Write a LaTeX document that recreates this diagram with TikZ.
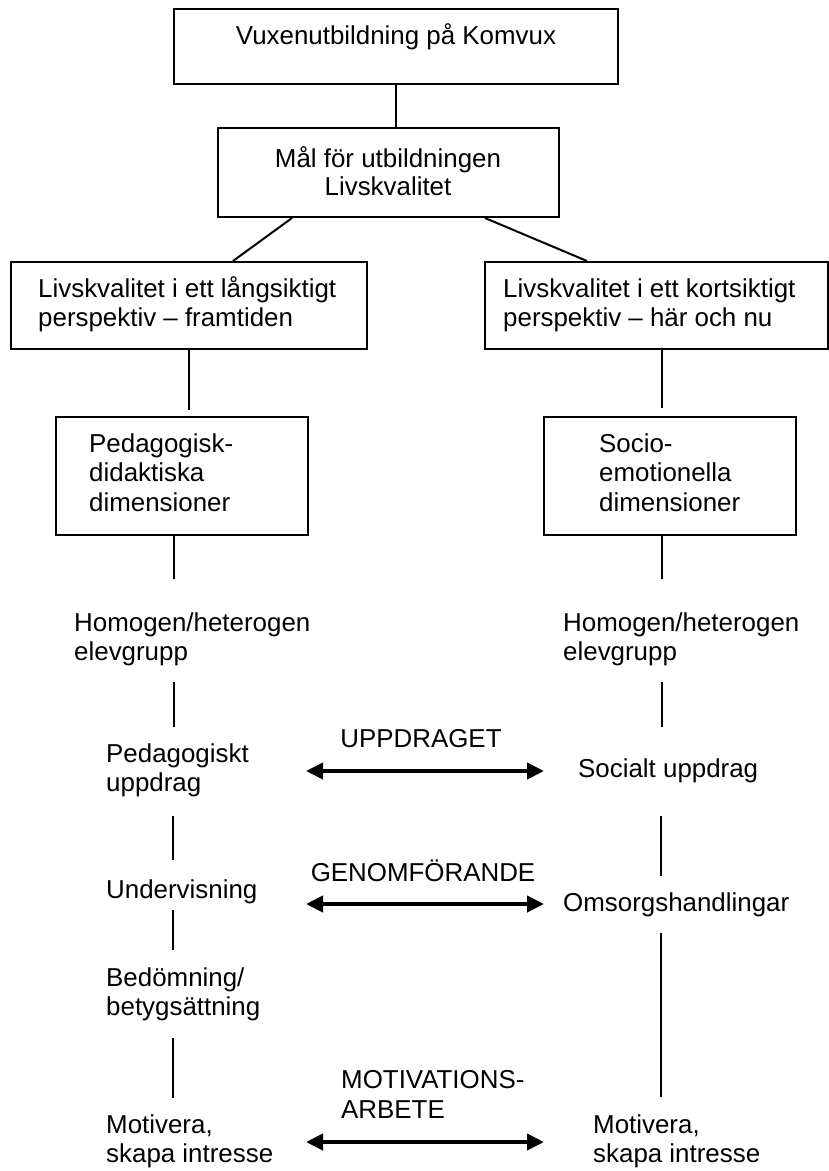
\documentclass[tikz,border=0pt]{standalone}
\usepackage{fontspec}
\setmainfont{Liberation Sans}
\usetikzlibrary{arrows.meta}
\newcommand{\ml}[2][l]{\begin{tabular}[t]{@{}#1@{}}#2\end{tabular}}
\begin{document}
\begin{tikzpicture}[x=1pt,y=-1pt,
  box/.style={draw, line width=2pt, inner sep=0pt, anchor=north west},
  txt/.style={inner sep=0pt, anchor=base west, font=\fontsize{25.9}{29.5}\selectfont},
  ctxt/.style={txt, anchor=base},
  conn/.style={line width=2pt},
  dbl/.style={line width=4pt, {Triangle[length=17pt,width=16pt]}-{Triangle[length=17pt,width=16pt]}}]
\useasboundingbox (0,0) rectangle (829,1171);

% boxes
\node[box, minimum width=444pt, minimum height=75pt] (b1) at (173,8) {};
\node[box, minimum width=341pt, minimum height=89pt] (b2) at (217,127) {};
\node[box, minimum width=356pt, minimum height=87pt] (b3l) at (10,261) {};
\node[box, minimum width=343pt, minimum height=87pt] (b3r) at (484,261) {};
\node[box, minimum width=252pt, minimum height=118pt] (b4l) at (55,416) {};
\node[box, minimum width=252pt, minimum height=118pt] (b4r) at (543,416) {};

% box texts
\node[ctxt] (t1) at (396,44) {Vuxenutbildning på Komvux};
\node[ctxt] (t2) at (388,167) {\ml[c]{Mål för utbildningen\\[-1.5pt]Livskvalitet}};
\node[txt] (t3l) at (38,297) {\ml{Livskvalitet i ett långsiktigt\\perspektiv -- framtiden}};
\node[txt] (t3r) at (503,297) {\ml{Livskvalitet i ett kortsiktigt\\perspektiv -- här och nu}};
\node[txt] (t4l) at (89,452) {\ml{Pedagogisk-\\didaktiska\\dimensioner}};
\node[txt] (t4r) at (599,452) {\ml{Socio-\\emotionella\\dimensioner}};

% free texts
\node[txt] (h1) at (74,631) {\ml{Homogen/heterogen\\elevgrupp}};
\node[txt] (h2) at (563,631) {\ml{Homogen/heterogen\\elevgrupp}};
\node[txt] (p1) at (106,762) {\ml{Pedagogiskt\\uppdrag}};
\node[txt] (s1) at (578,777) {Socialt uppdrag};
\node[ctxt] (u1) at (421,747) {UPPDRAGET};
\node[ctxt] (g1) at (423,881) {GENOMFÖRANDE};
\node[txt] (und) at (106,898) {Undervisning};
\node[txt] (oms) at (563,911) {Omsorgshandlingar};
\node[txt] (bed) at (106,986) {\ml{Bedömning/\\betygsättning}};
\node[txt] (mot) at (341,1088.5) {\ml{MOTIVATIONS-\\ARBETE}};
\node[txt] (m1) at (106,1133) {\ml{Motivera,\\skapa intresse}};
\node[txt] (m2) at (593,1133) {\ml{Motivera,\\skapa intresse}};

% coordinates for free line ends
\coordinate (e1) at ([yshift=-60pt]b3l.south);
\coordinate (e2) at (662,408);
\coordinate (e3) at (174,579);
\coordinate (e4) at (662,579);
\coordinate (f1a) at (174,682); \coordinate (f1b) at (174,727);
\coordinate (f2a) at (662,682); \coordinate (f2b) at (662,727);
\coordinate (f3a) at (173,816); \coordinate (f3b) at (173,860);
\coordinate (f4a) at (661,816); \coordinate (f4b) at (661,876);
\coordinate (f5a) at (173,910); \coordinate (f5b) at (173,950);
\coordinate (f6a) at (661,933); \coordinate (f6b) at (661,1097);
\coordinate (f7a) at (173,1038); \coordinate (f7b) at (173,1098);
\coordinate (a1l) at (306,771); \coordinate (a1r) at (544,771);
\coordinate (a2l) at (306,904); \coordinate (a2r) at (544,904);
\coordinate (a3l) at (306,1142); \coordinate (a3r) at (544,1142);

% connectors
\draw[conn] (b1.south) -- (b1.south |- b2.north);
\draw[conn] ([xshift=75pt]b2.south west) -- ([xshift=223pt]b3l.north west);
\draw[conn] ([xshift=268pt]b2.south west) -- ([xshift=103pt]b3r.north west);
\draw[conn] (b3l.south) -- (e1);
\draw[conn] ([xshift=178pt]b3r.south west) -- (e2);
\draw[conn] ([xshift=119pt]b4l.south west) -- (e3);
\draw[conn] ([xshift=119pt]b4r.south west) -- (e4);
\draw[conn] (f1a) -- (f1b);
\draw[conn] (f2a) -- (f2b);
\draw[conn] (f3a) -- (f3b);
\draw[conn] (f4a) -- (f4b);
\draw[conn] (f5a) -- (f5b);
\draw[conn] (f6a) -- (f6b);
\draw[conn] (f7a) -- (f7b);

% double arrows
\draw[dbl] (a1l) -- (a1r);
\draw[dbl] (a2l) -- (a2r);
\draw[dbl] (a3l) -- (a3r);
\end{tikzpicture}
\end{document}
